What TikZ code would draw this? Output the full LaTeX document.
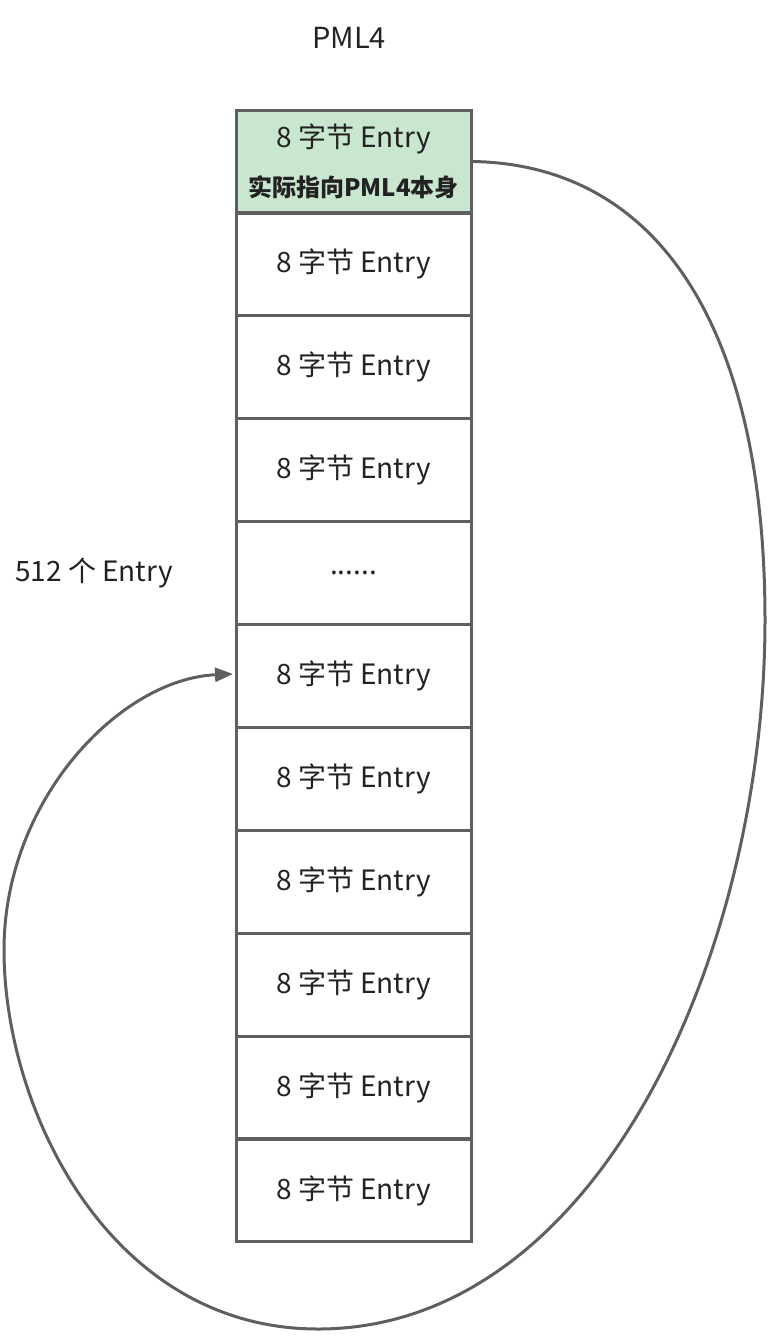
\documentclass[tikz,border=0pt]{standalone}
\usepackage{fontspec}
\setmainfont{Noto Sans CJK SC}
\usetikzlibrary{arrows.meta}
\definecolor{linegray}{HTML}{5F5F5F}
\definecolor{cellgreen}{HTML}{C9E6CE}
\definecolor{txt}{HTML}{222222}
\tikzset{
  cell/.style={draw=linegray, line width=3pt, minimum width=235pt, minimum height=103pt,
    inner sep=0pt, outer sep=0pt, text=txt, font=\fontsize{28}{33}\selectfont, align=center},
  label/.style={text=txt, font=\fontsize{28}{33}\selectfont, inner sep=0pt},
  loop/.style={draw=linegray, line width=3pt, -{Stealth[length=18pt,width=14pt,inset=0pt]}}
}
\begin{document}
\begin{tikzpicture}[x=1pt,y=-1pt]
\useasboundingbox (0,0) rectangle (768,1336);
\node[label, font=\fontsize{29}{34}\selectfont] (title) at (349,38) {PML4};
\node[cell, fill=cellgreen] (c1) at (353.5,161.5) {};
\node[label] (t1a) at (353.5,139) {8 字节 Entry};
\node[label, font=\fontsize{24}{28}\selectfont\bfseries] (t1b) at (353.5,187) {实际指向PML4本身};
\foreach \i/\t in {2/{8 字节 Entry},3/{8 字节 Entry},4/{8 字节 Entry},5/{......},6/{8 字节 Entry},7/{8 字节 Entry},8/{8 字节 Entry},9/{8 字节 Entry},10/{8 字节 Entry},11/{8 字节 Entry}}{
  \node[cell] (c\i) at (353.5,{110+102.9*(\i-0.5)}) {\t};
}
\node[label, anchor=west] (count) at (15,573) {512 个 Entry};
\coordinate (r) at (765,620);
\coordinate (b) at (318,1329);
\coordinate (l) at (4,950);
\coordinate (tip) at ([xshift=-3pt,yshift=2pt]c6.west);
\draw[loop] ([xshift=2pt]c1.east) .. controls (660,165) and (765,330) .. (r)
  .. controls (765,950) and (600,1329) .. (b)
  .. controls (110,1329) and (4,1110) .. (l)
  .. controls (4,800) and (120,679) .. (tip);
\end{tikzpicture}
\end{document}
